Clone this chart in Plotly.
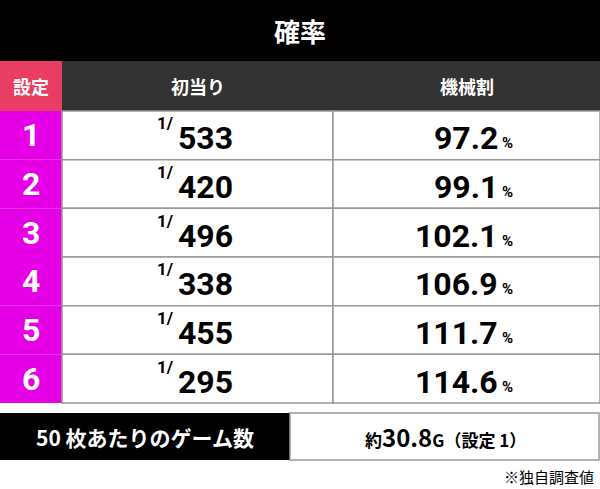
import plotly.graph_objects as go

title = "確率"
headers = ["設定", "初当り", "機械割"]
settings = ["1", "2", "3", "4", "5", "6"]
hit_denoms = ["533", "420", "496", "338", "455", "295"]
payout = ["97.2", "99.1", "102.1", "106.9", "111.7", "114.6"]
bottom_label = "50 枚あたりのゲーム数"
bottom_value = "<b>約<span style='font-size:24px'>30.8</span>G（設定 1）</b>"
footnote = "※独自調査値"

W, H = 600, 489
F = "Noto Sans CJK JP"
FN = "Roboto"
shapes, ann = [], []

def rect(x0, y0, x1, y1, fill, line=None):
    shapes.append(dict(type="rect", x0=x0, y0=y0, x1=x1, y1=y1, fillcolor=fill,
                       line=dict(color=line or fill, width=1.5 if line else 0), layer="below"))

def text(x, y, s, size, color="black", xanchor="center", bold=True, family=F):
    ann.append(dict(x=x, y=y, text=f"<b>{s}</b>" if bold else s, showarrow=False,
                    xanchor=xanchor, yanchor="middle", font=dict(family=family, size=size, color=color)))

rect(0, 0, W, 61, "#000000")
text(300, 30, title, 26, "white")
cols = [0, 62, 333, 600]
hy0, hy1 = 61, 111
rect(0, hy0, 62, hy1, "#ea3d63")
rect(62, hy0, W, hy1, "#333333")
for i, h in enumerate(headers):
    text((cols[i] + cols[i + 1]) / 2, (hy0 + hy1) / 2, h, 18, "white")
rh = (403 - hy1) / len(settings)
for i, s in enumerate(settings):
    y0 = hy1 + i * rh
    y1 = y0 + rh
    ym = (y0 + y1) / 2
    rect(0, y0, 62, y1, "#e600e6")
    rect(62, y0, 333, y1, "white", "#999999")
    rect(333, y0, W, y1, "white", "#999999")
    text(31, ym, s, 32, "white", family=FN)
    text(155, ym - 12, "1/", 17, xanchor="left", family=FN)
    text(176, ym + 3, hit_denoms[i], 32, xanchor="left", family=FN)
    text(500, ym + 3, payout[i], 32, xanchor="right", family=FN)
    text(500, ym + 8, "%", 15, xanchor="left", family=FN)
by0, by1 = 413, 460
rect(0, by0, 290, by1, "#000000")
rect(290, by0, W - 1, by1, "white", "#999999")
text(145, (by0 + by1) / 2, bottom_label, 21, "white")
text(445, (by0 + by1) / 2, bottom_value, 17, bold=False)
text(596, 476, footnote, 15, xanchor="right", bold=False)

fig = go.Figure()
fig.update_layout(width=W, height=H, margin=dict(l=0, r=0, t=0, b=0),
                  paper_bgcolor="white", plot_bgcolor="white",
                  xaxis=dict(range=[0, W], visible=False, fixedrange=True),
                  yaxis=dict(range=[H, 0], visible=False, fixedrange=True),
                  shapes=shapes, annotations=ann, showlegend=False)
fig.write_html("out.html", config={"displayModeBar": False},
               post_script="document.body.style.margin='0';document.body.style.overflow='hidden';")
